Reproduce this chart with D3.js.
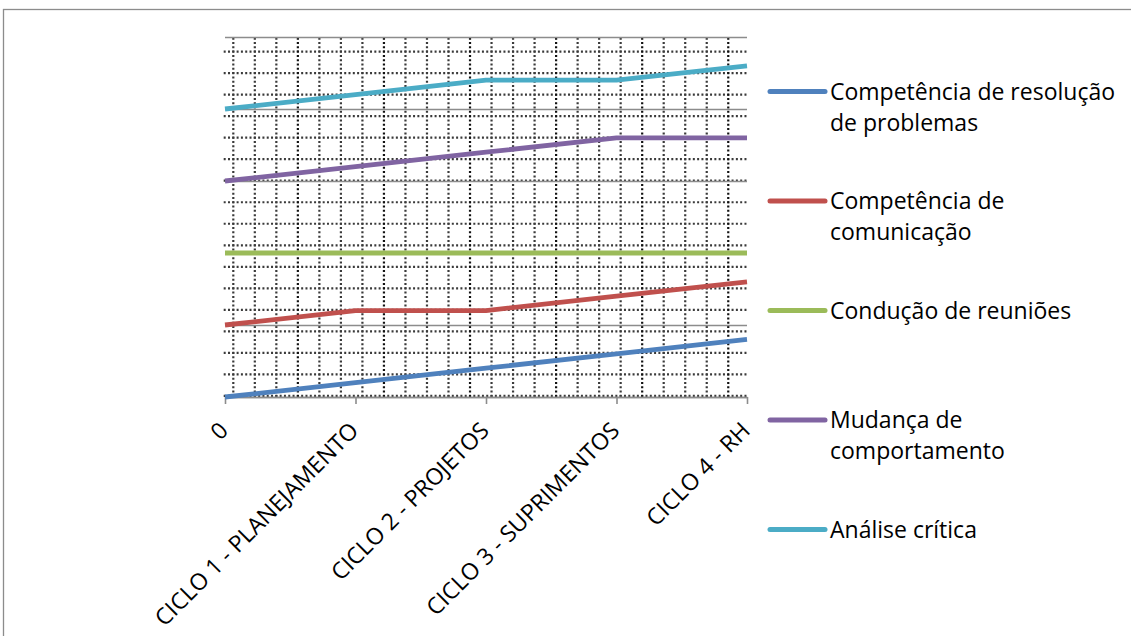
<!DOCTYPE html>
<html lang="pt">
<head>
<meta charset="utf-8">
<script src="https://cdn.jsdelivr.net/npm/d3@7"></script>
<style>
  html, body { margin: 0; padding: 0; background: #fff; }
  svg { display: block; }
  text { font-family: "Open Sans", Lato, sans-serif; fill: #000; }
</style>
</head>
<body>
<svg id="chart" width="1131" height="636"></svg>
<script>
// Categories (ciclos) on the horizontal axis
const categories = ["0", "CICLO 1 - PLANEJAMENTO", "CICLO 2 - PROJETOS", "CICLO 3 - SUPRIMENTOS", "CICLO 4 - RH"];

// Series names, in legend order
const seriesNames = [
  "Competência de resolução de problemas",
  "Competência de comunicação",
  "Condução de reuniões",
  "Mudança de comportamento",
  "Análise crítica"
];

// Series values per ciclo
const resolucaoProblemas   = [0.0, 0.2, 0.4, 0.6, 0.8];
const comunicacao          = [1.0, 1.2, 1.2, 1.4, 1.6];
const conducaoReunioes     = [2.0, 2.0, 2.0, 2.0, 2.0];
const mudancaComportamento = [3.0, 3.2, 3.4, 3.6, 3.6];
const analiseCritica       = [4.0, 4.2, 4.4, 4.4, 4.6];

// Value axis: major gridlines (no labels shown)
const yTickValues = [0, 1, 2, 3, 4, 5];

const seriesColors = ["#4F81BD", "#C0504D", "#9BBB59", "#8064A2", "#4BACC6"];
const seriesValues = [resolucaoProblemas, comunicacao, conducaoReunioes, mudancaComportamento, analiseCritica];

const FONT_SIZE = 23;
const svg = d3.select("#chart");
const plot = { left: 225, right: 747, top: 37, bottom: 397 };

// Outer chart frame
svg.append("rect")
  .attr("x", 3.5).attr("y", 9.5)
  .attr("width", 1140).attr("height", 640)
  .attr("fill", "#fff").attr("stroke", "#8c8c8c").attr("stroke-width", 1.3);

const x = d3.scalePoint().domain(categories).range([plot.left, plot.right]);
const y = d3.scaleLinear().domain([0, 5]).range([plot.bottom, plot.top]);

// Dotted-grid fill of the plot area
const cell = 21.52, dotStep = cell / 5;
const gridG = svg.append("g").attr("class", "dot-grid");
const hy0 = 51.6, vx0 = 233.3;
const hRows = d3.range(0, 17).map(k => hy0 + k * cell);
const vCols = d3.range(0, 24).map(k => vx0 + k * cell);
gridG.selectAll("line.h").data(hRows).join("line")
  .attr("class", "h")
  .attr("x1", vx0 - 1 - 2 * dotStep).attr("x2", plot.right)
  .attr("y1", d => d).attr("y2", d => d)
  .attr("stroke", "#3a3a3a").attr("stroke-width", 2.2)
  .attr("stroke-dasharray", `2 ${dotStep - 2}`);
gridG.selectAll("line.v").data(vCols).join("line")
  .attr("class", "v")
  .attr("y1", hy0 - 1 - 3 * dotStep).attr("y2", plot.bottom)
  .attr("x1", d => d).attr("x2", d => d)
  .attr("stroke", (d, i) => i % 4 === 3 ? "#111" : "#3a3a3a")
  .attr("stroke-width", 2.2)
  .attr("stroke-dasharray", `2 ${dotStep - 2}`);

// Major horizontal gridlines
const yAxis = d3.axisLeft(y).tickValues(yTickValues)
  .tickSize(-(plot.right - plot.left)).tickFormat("");
const yG = svg.append("g").attr("transform", `translate(${plot.left},0)`).call(yAxis);
yG.select(".domain").remove();
yG.selectAll(".tick line").attr("stroke", "#8c8c8c").attr("stroke-width", 1.6);

// Category axis
const xAxis = d3.axisBottom(x).tickSize(7).tickSizeOuter(0);
const xG = svg.append("g").attr("transform", `translate(0,${plot.bottom})`).call(xAxis);
xG.select(".domain").attr("stroke", "#8c8c8c").attr("stroke-width", 1.6);
xG.selectAll(".tick line").attr("stroke", "#8c8c8c").attr("stroke-width", 1.6);
xG.selectAll(".tick text")
  .attr("x", 0).attr("y", 0).attr("dy", null)
  .attr("transform", "translate(4,35) rotate(-45)")
  .attr("text-anchor", "end")
  .attr("font-size", FONT_SIZE)
  .attr("font-family", null)
  .attr("fill", "#000");
xG.attr("font-family", null).attr("font-size", null);

// Series lines
const line = d3.line().x((d, i) => x(categories[i])).y(d => y(d));
svg.append("g").selectAll("path").data(seriesValues).join("path")
  .attr("d", d => line(d))
  .attr("fill", "none")
  .attr("stroke", (d, i) => seriesColors[i])
  .attr("stroke-width", 4.8)
  .attr("stroke-linejoin", "round")
  .attr("stroke-linecap", "butt");

// Legend
const legend = { x: 770, markerLen: 55, textX: 830, y0: 91.5, step: 109.5, lineH: 31, maxW: 295 };
const legG = svg.append("g");
seriesNames.forEach((name, i) => {
  const cy = legend.y0 + i * legend.step;
  legG.append("line")
    .attr("x1", legend.x).attr("x2", legend.x + legend.markerLen)
    .attr("y1", cy).attr("y2", cy)
    .attr("stroke", seriesColors[i]).attr("stroke-width", 5)
    .attr("stroke-linecap", "round");
  const t = legG.append("text")
    .attr("x", legend.textX).attr("y", cy)
    .attr("font-size", FONT_SIZE);
  // word wrap to the legend width
  const words = name.split(" ");
  let lines = [], cur = "";
  const probe = legG.append("text").attr("font-size", FONT_SIZE).attr("visibility", "hidden");
  words.forEach(w => {
    const test = cur ? cur + " " + w : w;
    probe.text(test);
    if (probe.node().getComputedTextLength() > legend.maxW && cur) {
      lines.push(cur); cur = w;
    } else cur = test;
  });
  lines.push(cur);
  probe.remove();
  lines.forEach((ln, j) => {
    t.append("tspan").attr("x", legend.textX)
      .attr("y", cy + j * legend.lineH).attr("dy", "0.35em").text(ln);
  });
});
</script>
</body>
</html>
